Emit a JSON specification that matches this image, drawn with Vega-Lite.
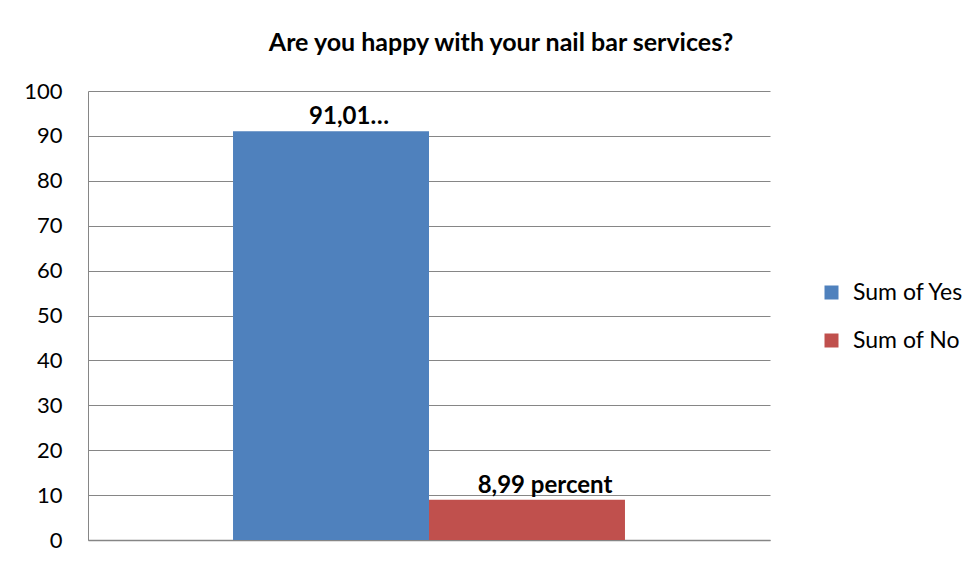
{
  "$schema": "https://vega.github.io/schema/vega-lite/v6.json",
  "autosize": "none",
  "width": 682,
  "height": 449,
  "padding": {"left": 88, "top": 91, "right": 206, "bottom": 22},
  "background": "white",
  "config": {"view": {"stroke": null}, "font": "Lato"},
  "title": {"text": "Are you happy with your nail bar services?", "fontSize": 25, "fontWeight": "bold", "font": "Lato", "color": "#000000", "anchor": "middle", "offset": 24, "dx": 72},
  "data": {"values": [
    {"series": "Sum of Yes", "value": 91.01, "label": "91,01…"},
    {"series": "Sum of No", "value": 8.99, "label": "8,99 percent"}
  ]},
  "encoding": {
    "x": {"field": "series", "type": "nominal", "sort": ["Sum of Yes", "Sum of No"],
      "scale": {"paddingInner": 0, "paddingOuter": 0.74},
      "axis": {"labels": false, "ticks": false, "title": null, "domainColor": "#868686", "domainWidth": 1.5}},
    "y": {"field": "value", "type": "quantitative",
      "scale": {"domain": [0, 100], "nice": false},
      "axis": {"values": [0,10,20,30,40,50,60,70,80,90,100], "title": null, "ticks": false, "labelFontSize": 22, "labelColor": "#000000", "labelPadding": 26, "domainColor": "#868686", "gridColor": "#868686", "gridWidth": 1, "grid": true, "labelFont": "Lato"}}
  },
  "layer": [
    {"mark": {"type": "bar"},
     "encoding": {"color": {"field": "series", "type": "nominal", "sort": ["Sum of Yes", "Sum of No"],
       "scale": {"domain": ["Sum of Yes", "Sum of No"], "range": ["#4F81BD", "#C0504D"]},
       "legend": {"title": null, "orient": "none", "legendX": 732, "legendY": 190, "symbolType": "square", "symbolSize": 196, "labelFontSize": 23, "labelFont": "Lato", "labelColor": "#000000", "rowPadding": 24, "symbolStrokeWidth": 0, "labelOffset": 10}}}},
    {"mark": {"type": "text", "fontSize": 24, "fontWeight": "bold", "font": "Lato", "baseline": "bottom", "dy": -2, "dx": 18, "color": "#000000"},
     "encoding": {"text": {"field": "label"}}}
  ]
}
